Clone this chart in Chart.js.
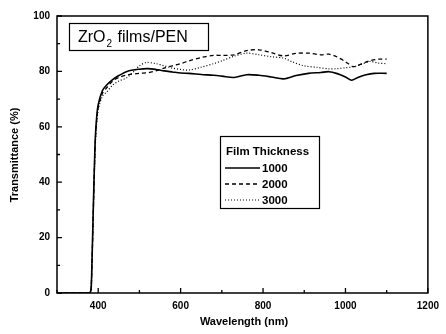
<!DOCTYPE html>
<html>
<head>
<meta charset="utf-8">
<script src="https://cdn.jsdelivr.net/npm/chart.js@4.4.1/dist/chart.umd.min.js"></script>
<style>
  html, body { margin: 0; padding: 0; background: #fff; }
  #wrap { width: 446px; height: 334px; }
</style>
</head>
<body>
<div id="wrap"><canvas id="chart" width="446" height="334"></canvas></div>
<script>
// transmittance spectra of ZrO2 films on PEN

const wl1000 = [300, 375, 381, 383, 385, 387, 389, 391, 393, 396, 400, 410, 420, 435, 450, 470, 500, 520, 540, 560, 580, 600, 620, 650, 680, 700, 730, 760, 790, 820, 850, 880, 910, 940, 960, 980, 1000, 1015, 1030, 1050, 1070, 1100];
const t1000  = [0, 0, 0.3, 2, 12, 24, 36, 47, 56, 63, 68, 73, 75, 77, 78.5, 80, 80.8, 81, 80.7, 80.2, 79.8, 79.4, 79.3, 78.9, 78.6, 78.3, 77.8, 78.8, 78.6, 78.0, 77.3, 78.5, 79.3, 79.6, 79.9, 79.2, 78.0, 76.8, 77.8, 78.8, 79.3, 79.3];

const wl2000 = [300, 375, 381, 383, 385, 387, 389, 391, 393, 396, 400, 410, 420, 435, 450, 470, 500, 520, 540, 560, 580, 600, 620, 650, 680, 700, 730, 760, 790, 820, 850, 880, 910, 940, 960, 980, 1000, 1020, 1040, 1060, 1080, 1100];
const t2000  = [0, 0, 0.3, 2, 11, 23, 35, 46, 55, 62, 67, 72, 74, 76.5, 77.8, 78.7, 79.3, 79.5, 80.2, 81.2, 82, 82.8, 83.8, 85, 85.8, 85.8, 86, 87.5, 87.8, 86.8, 85.6, 86.5, 86.6, 86, 86.2, 85.2, 83.5, 81.7, 82.8, 83.9, 84.4, 84.4];

const wl3000 = [300, 375, 381, 383, 385, 387, 389, 391, 393, 396, 400, 410, 420, 435, 450, 470, 490, 500, 516, 540, 560, 580, 600, 620, 650, 680, 700, 730, 760, 790, 820, 850, 870, 900, 930, 960, 980, 1000, 1020, 1040, 1060, 1080, 1100];
const t3000  = [0, 0, 0.3, 2, 11, 22, 34, 45, 54, 61, 66, 71, 72.5, 75, 76.5, 77.8, 80.5, 82, 83.2, 82.8, 82, 81.2, 80.7, 80.5, 81.5, 82.8, 83.8, 85.5, 86.6, 86, 85.3, 84.8, 83.5, 82, 81.5, 80.9, 81, 81.3, 81.7, 82.6, 83.6, 83, 82.8];

const xTicks = [400, 600, 800, 1000, 1200];
const xMinor = [300, 500, 700, 900, 1100];
const yTicks = [0, 20, 40, 60, 80, 100];
const yMinor = [10, 30, 50, 70, 90];
const legendLabels = ['1000', '2000', '3000'];

const pts = (xs, ys) => xs.map((x, i) => ({ x: x, y: ys[i] }));

const FONT = '"Liberation Sans", Arial, sans-serif';

const framePlugin = {
  id: 'frame',
  afterDraw(chart) {
    const { ctx, chartArea: a, scales } = chart;
    const xs = scales.x, ys = scales.y;
    ctx.save();
    ctx.strokeStyle = '#000';
    ctx.lineWidth = 1.5;
    ctx.strokeRect(a.left, a.top, a.right - a.left, a.bottom - a.top);

    // inward ticks
    ctx.lineWidth = 1.3;
    ctx.beginPath();
    xTicks.forEach(v => { const p = xs.getPixelForValue(v); ctx.moveTo(p, a.bottom); ctx.lineTo(p, a.bottom - 5); });
    xMinor.forEach(v => { const p = xs.getPixelForValue(v); ctx.moveTo(p, a.bottom); ctx.lineTo(p, a.bottom - 3); });
    yTicks.forEach(v => { const p = ys.getPixelForValue(v); ctx.moveTo(a.left, p); ctx.lineTo(a.left + 5, p); });
    yMinor.forEach(v => { const p = ys.getPixelForValue(v); ctx.moveTo(a.left, p); ctx.lineTo(a.left + 3, p); });
    ctx.stroke();

    // axis titles
    ctx.fillStyle = '#000';
    ctx.font = 'bold 11px ' + FONT;
    ctx.textAlign = 'center';
    ctx.textBaseline = 'middle';
    ctx.fillText('Wavelength (nm)', 244, 322);
    ctx.save();
    ctx.translate(15, 155);
    ctx.rotate(-Math.PI / 2);
    ctx.fillText('Transmittance (%)', 0, 0);
    ctx.restore();

    // sample label box
    ctx.lineWidth = 1.2;
    ctx.strokeRect(69.5, 23.5, 139, 27);
    ctx.font = '16px ' + FONT;
    ctx.textAlign = 'left';
    ctx.textBaseline = 'alphabetic';
    let x = 78;
    ctx.fillText('ZrO', x, 42);
    x += ctx.measureText('ZrO').width;
    ctx.font = '10px ' + FONT;
    ctx.fillText('2', x + 1, 47);
    x += ctx.measureText('2').width + 2;
    ctx.font = '16px ' + FONT;
    ctx.fillText(' films/PEN', x, 42);

    // legend box
    ctx.lineWidth = 1.2;
    ctx.strokeRect(220.5, 136.5, 99, 72);
    ctx.font = 'bold 11.5px ' + FONT;
    ctx.textBaseline = 'middle';
    ctx.fillText('Film Thickness', 226, 152);
    chart.data.datasets.forEach((ds, i) => {
      const y = 168 + i * 16;
      ctx.save();
      ctx.strokeStyle = '#000';
      ctx.lineWidth = ds.borderWidth;
      ctx.setLineDash(ds.borderDash || []);
      ctx.beginPath();
      ctx.moveTo(225, y);
      ctx.lineTo(260, y);
      ctx.stroke();
      ctx.restore();
      ctx.fillText(legendLabels[i], 262, y + 1);
    });
    ctx.restore();
  }
};

new Chart(document.getElementById('chart').getContext('2d'), {
  type: 'line',
  data: {
    datasets: [
      { label: legendLabels[0], data: pts(wl1000, t1000), borderColor: '#000', borderWidth: 1.6, pointRadius: 0, tension: 0.3, fill: false },
      { label: legendLabels[1], data: pts(wl2000, t2000), borderColor: '#000', borderWidth: 1.3, borderDash: [4, 3], pointRadius: 0, tension: 0.3, fill: false },
      { label: legendLabels[2], data: pts(wl3000, t3000), borderColor: '#000', borderWidth: 1.2, borderDash: [1, 2], pointRadius: 0, tension: 0.3, fill: false }
    ]
  },
  options: {
    responsive: false,
    animation: false,
    layout: { padding: { top: 16, right: 15, left: 0, bottom: 0 } },
    plugins: { legend: { display: false }, tooltip: { enabled: false } },
    scales: {
      x: {
        type: 'linear', min: 300, max: 1200,
        grid: { display: false, drawTicks: false },
        border: { display: false },
        afterBuildTicks: s => { s.ticks = xTicks.map(v => ({ value: v })); },
        afterFit: s => { s.height = 41; },
        ticks: { color: '#000', padding: 7, maxRotation: 0, callback: v => String(v), font: { family: FONT, size: 10, weight: 'bold' } }
      },
      y: {
        min: 0, max: 100,
        grid: { display: false, drawTicks: false },
        border: { display: false },
        afterBuildTicks: s => { s.ticks = yTicks.map(v => ({ value: v })); },
        afterFit: s => { s.width = 57; },
        ticks: { color: '#000', padding: 7, callback: v => String(v), font: { family: FONT, size: 10, weight: 'bold' } }
      }
    }
  },
  plugins: [framePlugin]
});
</script>
</body>
</html>
